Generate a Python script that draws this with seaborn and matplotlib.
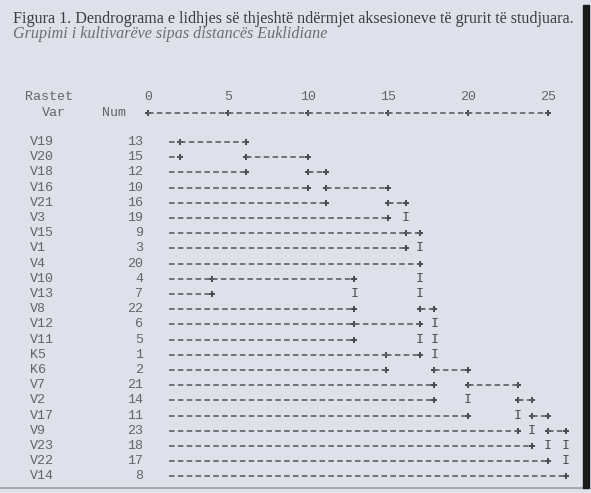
import numpy as np
import pandas as pd
import matplotlib
matplotlib.use("Agg")
import matplotlib.pyplot as plt
import seaborn as sns

# rreshtat e dendrogramit, nga lart poshte
var_names = ["V19", "V20", "V18", "V16", "V21", "V3", "V15", "V1", "V4", "V10", "V13", "V8",
             "V12", "V11", "K5", "K6", "V7", "V2", "V17", "V9", "V23", "V22", "V14"]
var_nums = [13, 15, 12, 10, 16, 19, 9, 3, 20, 4, 7, 22, 6, 5, 1, 2, 21, 14, 11, 23, 18, 17, 8]

# ku mbaron vija e secilit rresht (distanca e rishkallezuar)
leaf_end = [2.0, 2.0, 6.1, 10.0, 11.1, 15.0, 16.1, 16.1, 17.0, 4.0, 4.0, 12.9,
            12.9, 12.9, 14.9, 14.9, 17.9, 17.9, 20.0, 23.1, 24.0, 25.0, 26.1]

# vijat e grupeve te bashkuara: rreshti, fillimi, fundi
join_row = [0, 1, 2, 3, 4, 6, 9, 11, 12, 14, 15, 16, 17, 18, 19]
join_from = [2.0, 6.1, 10.0, 11.1, 15.0, 16.1, 4.0, 17.0, 12.9, 14.9, 17.9, 20.0, 23.1, 24.0, 25.0]
join_to = [6.1, 10.0, 11.1, 15.0, 16.1, 17.0, 12.9, 17.9, 17.0, 17.0, 20.0, 23.1, 24.0, 25.0, 26.1]

# lidhjet vertikale: distanca, rreshti i pare, rreshti i fundit
link_at = [2.0, 6.1, 10.0, 11.1, 15.0, 16.1, 17.0, 4.0, 12.9, 14.9, 17.9, 20.0, 23.1, 24.0, 25.0, 26.1]
link_top = [0, 0, 1, 2, 3, 4, 6, 9, 9, 14, 11, 15, 16, 17, 18, 19]
link_bot = [1, 2, 3, 4, 5, 7, 14, 10, 13, 15, 17, 18, 19, 20, 21, 22]

scale_ticks = [0, 5, 10, 15, 20, 25]

title = "Figura 1. Dendrograma e lidhjes së thjeshtë ndërmjet aksesioneve të grurit të studjuara."
subtitle = "Grupimi i kultivarëve sipas distancës Euklidiane"

PAGE = "#dfe1ea"
INK = "#64646c"
DARK = "#48484e"
MONO = "Liberation Mono"
FS = 9.6
LINE_START = 1.3
DASH = (0, (3.2, 1.9))

sns.set_style("white")

fig = plt.figure(figsize=(5.91, 4.93), dpi=100)
fig.patch.set_facecolor(PAGE)
ax = fig.add_axes([0, 0, 1, 1])
ax.set_facecolor(PAGE)
# 16 px per njesi, rreshtat 15.2 px
ax.set_xlim(-148 / 16, (591 - 148) / 16)
ax.set_ylim((493 - 142) / 15.2, -142 / 15.2)
ax.axis("off")

rows = np.arange(len(var_names))

# vijat me viza
ax.hlines(rows, LINE_START, leaf_end, colors=INK, linewidth=1.25, linestyles=DASH)
ax.hlines(join_row, join_from, join_to, colors=INK, linewidth=1.25, linestyles=DASH)

# shenjat "+"
plus = pd.DataFrame({
    "d": list(leaf_end) + join_from + join_to,
    "row": list(rows) + join_row + join_row,
})
plus = plus.drop_duplicates()
sns.scatterplot(data=plus, x="d", y="row", marker="+", s=24, color=DARK,
                linewidth=1.4, ax=ax, legend=False)

# shenjat "I" ne rreshtat ndermjet
for d, r0, r1 in zip(link_at, link_top, link_bot):
    for r in range(r0 + 1, r1):
        here = plus[(plus["row"] == r) & np.isclose(plus["d"], d, atol=0.05)]
        if len(here) == 0:
            ax.text(d, r, "I", family=MONO, fontsize=FS, color=DARK,
                    ha="center", va="center")

# emrat dhe numrat
for r, name, num in zip(rows, var_names, var_nums):
    ax.text(-7.35, r, name, family=MONO, fontsize=FS, color=INK, ha="left", va="center")
    ax.text(-0.3, r, str(num), family=MONO, fontsize=FS, color=INK, ha="right", va="center")

# koka e shkalles
y_head = (97 - 142) / 15.2
y_axis = (113 - 142) / 15.2
ax.text(-7.7, y_head, "Rastet", family=MONO, fontsize=FS, color=INK, ha="left", va="center")
ax.text(-6.6, y_axis, "Var", family=MONO, fontsize=FS, color=INK, ha="left", va="center")
ax.text(-2.85, y_axis, "Num", family=MONO, fontsize=FS, color=INK, ha="left", va="center")
for t in scale_ticks:
    ax.text(t, y_head, str(t), family=MONO, fontsize=FS, color=INK, ha="center", va="center")
ax.hlines([y_axis], 0, 25, colors=INK, linewidth=1.25, linestyles=DASH)
ax.scatter(scale_ticks, [y_axis] * len(scale_ticks), marker="+", s=24, color=DARK, linewidth=1.4)

# titulli
fig.text(13 / 591, 1 - 19 / 493, title, family="Liberation Serif", fontsize=11.6,
         color="#3c3c42", ha="left", va="center")
fig.text(13 / 591, 1 - 34 / 493, subtitle, family="Liberation Serif", style="italic",
         fontsize=11.6, color="#6c6c74", ha="left", va="center")

# buza e faqes se skanuar
fig.patches.append(plt.Rectangle((583 / 591, 5 / 493), 6 / 591, 483 / 493,
                                 transform=fig.transFigure, color="#1a1a1a", zorder=5))
fig.lines.append(plt.Line2D([0, 583 / 591], [5 / 493, 5 / 493], transform=fig.transFigure,
                            color="#a8aab2", linewidth=1.5))

fig.savefig("out.png", dpi=100, facecolor=PAGE)
